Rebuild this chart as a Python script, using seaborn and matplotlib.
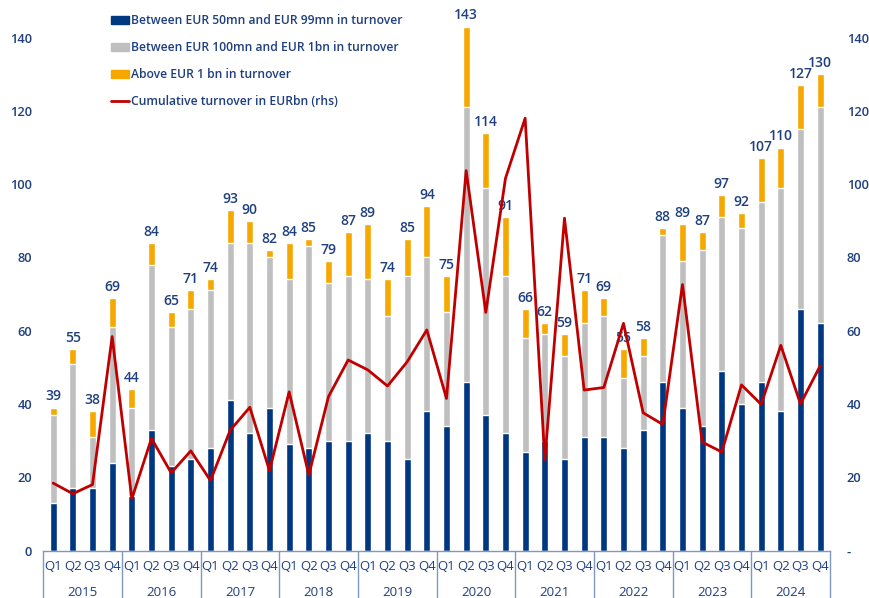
import pandas as pd
import numpy as np
import matplotlib
matplotlib.use('Agg')
import matplotlib.pyplot as plt
import matplotlib.transforms as mtransforms
from matplotlib.patches import Patch
from matplotlib.lines import Line2D
import seaborn as sns

# ===========================
# Data
# ===========================
years = ['2015', '2016', '2017', '2018', '2019', '2020', '2021', '2022', '2023', '2024']
quarters = ['Q1', 'Q2', 'Q3', 'Q4']

mid_small = [13, 17, 17, 24, 15, 33, 23, 25, 28, 41, 32, 39, 29, 28, 30, 30,
             32, 30, 25, 38, 34, 46, 37, 32, 27, 30, 25, 31, 31, 28, 33, 46,
             39, 34, 49, 40, 46, 38, 66, 62]
mid_large = [24, 34, 14, 37, 24, 45, 38, 41, 43, 43, 52, 41, 45, 55, 43, 45,
             42, 34, 50, 42, 31, 75, 62, 43, 31, 29, 28, 31, 33, 19, 20, 40,
             40, 48, 42, 48, 49, 61, 49, 59]
totals = [39, 55, 38, 69, 44, 84, 65, 71, 74, 93, 90, 82, 84, 85, 79, 87,
          89, 74, 85, 94, 75, 143, 114, 91, 66, 62, 59, 71, 69, 55, 58, 88,
          89, 87, 97, 92, 107, 110, 127, 130]
cumulative_turnover = [18.4, 15.5, 18.0, 58.4, 14.1, 30.6, 21.2, 27.2, 19.1, 32.8,
                       39.1, 21.8, 43.3, 20.6, 42.0, 52.0, 49.3, 44.9, 51.5, 60.2,
                       41.5, 103.7, 65.0, 101.6, 118.0, 24.7, 90.7, 43.8, 44.5, 62.0,
                       37.6, 34.4, 72.6, 29.6, 26.9, 45.2, 39.9, 56.0, 40.0, 50.4]

NAVY = '#003781'
GREY = '#BFBFBF'
AMBER = '#F6A800'
RED = '#C00000'
TEXT = '#1F3F7F'
AXIS = '#8197BF'

periods = [f'{y} {q}' for y in years for q in quarters]
df = pd.DataFrame({
    'period': periods,
    'small': mid_small,
    'mid': np.array(mid_small) + np.array(mid_large),
    'total': totals,
    'turnover': cumulative_turnover,
})
df['pos'] = np.arange(len(df))

sns.set_theme(style='white')
plt.rcParams['font.family'] = ['Open Sans', 'DejaVu Sans']

fig = plt.figure(figsize=(8.7, 5.98), dpi=100)
ax = fig.add_axes([0.0498, 0.0794, 0.9042, 0.919])

# stacked bars: draw totals first, then overlay the lower segments
bw = 0.37
sns.barplot(data=df, x='period', y='total', color=AMBER, width=bw,
            saturation=1, ax=ax, order=periods)
sns.barplot(data=df, x='period', y='mid', color=GREY, width=bw,
            saturation=1, ax=ax, order=periods)
sns.barplot(data=df, x='period', y='small', color=NAVY, width=bw,
            saturation=1, ax=ax, order=periods)

ax.set_xlim(-0.5, len(df) - 0.5)
ax.set_ylim(0, 150)
ax.set_yticks(range(0, 141, 20))
ax.set_yticklabels([str(v) for v in range(0, 141, 20)], color=TEXT,
                   fontsize=9.3, fontweight='semibold')
ax.tick_params(axis='y', length=0, pad=8)
ax.set_xticks(range(len(df)))
ax.set_xticklabels(quarters * len(years), color=TEXT, fontsize=9.5)
ax.tick_params(axis='x', length=0, pad=7)
ax.set_xlabel('')
ax.set_ylabel('')
for s in ['left', 'right', 'top']:
    ax.spines[s].set_visible(False)
ax.spines['bottom'].set_color(AXIS)
ax.spines['bottom'].set_linewidth(1)

# total labels
for p, t in zip(df['pos'], df['total']):
    ax.annotate(str(t), (p, t), xytext=(0, 3), textcoords='offset points',
                ha='center', va='bottom', color=TEXT, fontsize=10,
                fontweight='semibold')

# year separators and year labels
trans = mtransforms.blended_transform_factory(ax.transData, ax.transAxes)
for i in range(len(years) + 1):
    b = i * 4 - 0.5
    ax.plot([b, b], [0, -0.09], transform=trans, color=AXIS, lw=1,
            clip_on=False)
for i, y in enumerate(years):
    ax.text(i * 4 + 1.5, -0.077, y, transform=trans, ha='center', va='center',
            color=TEXT, fontsize=9.5)

# cumulative turnover on rhs
ax2 = ax.twinx()
sns.lineplot(data=df, x='pos', y='turnover', color=RED, lw=2, ax=ax2)
ax2.set_ylim(0, 150)
ax2.set_xlim(-0.5, len(df) - 0.5)
ax2.set_yticks(range(0, 141, 20))
ax2.set_yticklabels(['-'] + [str(v) for v in range(20, 141, 20)], color=TEXT,
                    fontsize=9.3, fontweight='semibold')
ax2.tick_params(axis='y', length=0, pad=12)
ax2.set_ylabel('')
ax2.set_xlabel('')
for s in ax2.spines.values():
    s.set_visible(False)

handles = [
    Patch(color=NAVY, label='Between EUR 50mn and EUR 99mn in turnover'),
    Patch(color=GREY, label='Between EUR 100mn and EUR 1bn in turnover'),
    Patch(color=AMBER, label='Above EUR 1 bn in turnover'),
    Line2D([0], [0], color=RED, lw=2, label='Cumulative turnover in EURbn (rhs)'),
]
leg = fig.legend(handles=handles, loc='upper left', bbox_to_anchor=(0.122, 0.984),
                 frameon=False, fontsize=8.7, labelspacing=1.15, handlelength=1.5,
                 handleheight=0.7, handletextpad=0.15, borderaxespad=0)
for t in leg.get_texts():
    t.set_color(TEXT)
    t.set_fontweight('semibold')

plt.savefig('out.png', dpi=100)
plt.close()
